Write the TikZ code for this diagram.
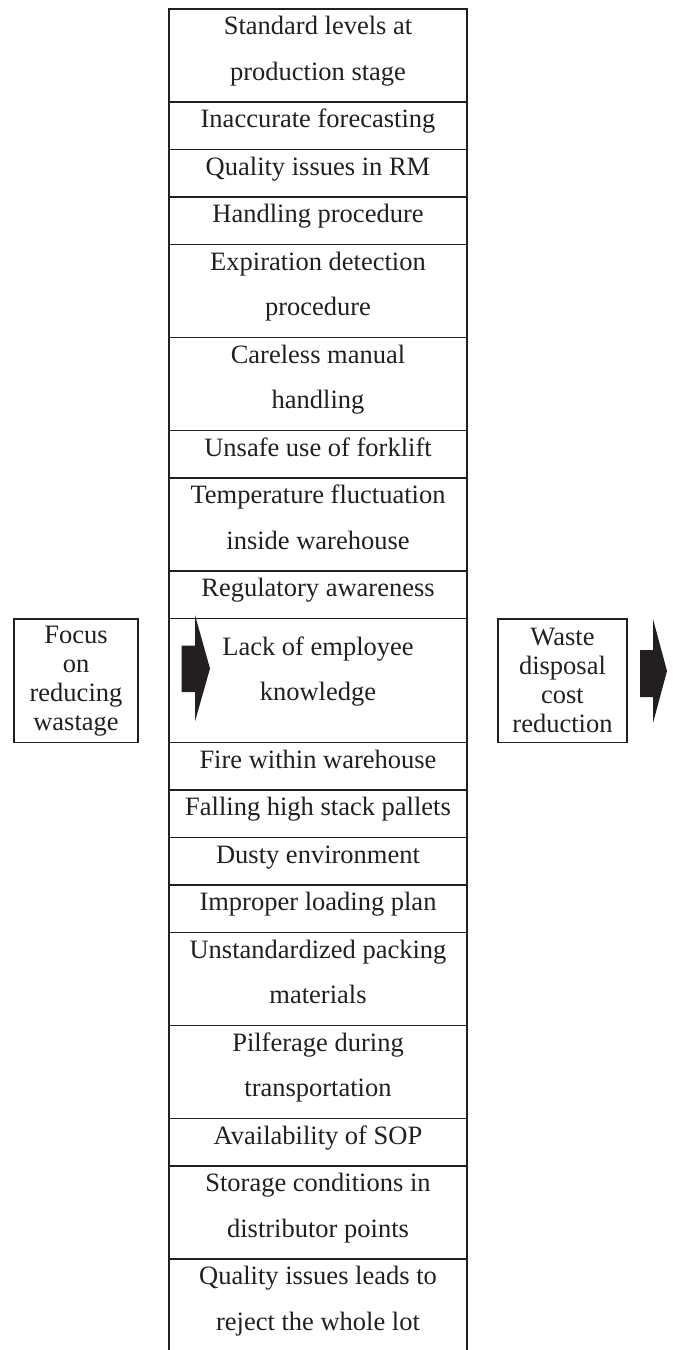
\documentclass[tikz,border=0pt]{standalone}
\usepackage{fontspec}
\setmainfont{Liberation Serif}
\usepackage{tikz}
\usetikzlibrary{positioning}

\definecolor{ink}{RGB}{35,31,32}

\tikzset{
  cell/.style={draw=ink, line width=1.8pt, minimum width=298pt, inner sep=0pt, outer sep=0pt},
  txt/.style={text=ink, anchor=base, align=center, inner sep=0pt, font=\fontsize{26.5}{45.5}\selectfont},
  sidebox/.style={draw=ink, line width=1.8pt, text=ink, align=center, inner sep=0pt, outer sep=0pt,
    minimum height=123.5pt, font=\fontsize{26.5}{29}\selectfont},
  blockarrow/.style={fill=ink, draw=none},
}

\begin{document}
\begin{tikzpicture}[x=1pt, y=-1pt]
        \useasboundingbox (0,0) rectangle (677,1350);

         % column of causes
        \node[cell, minimum height=93pt, anchor=north] (r1) at (318,9) {};
        \node[cell, minimum height=47.5pt, below=0pt of r1] (r2) {};
        \node[cell, minimum height=47.5pt, below=0pt of r2] (r3) {};
        \node[cell, minimum height=47.5pt, below=0pt of r3] (r4) {};
        \node[cell, minimum height=93pt, below=0pt of r4] (r5) {};
        \node[cell, minimum height=93pt, below=0pt of r5] (r6) {};
        \node[cell, minimum height=47.5pt, below=0pt of r6] (r7) {};
        \node[cell, minimum height=93pt, below=0pt of r7] (r8) {};
        \node[cell, minimum height=47.5pt, below=0pt of r8] (r9) {};
        \node[cell, minimum height=124pt, below=0pt of r9] (r10) {};
        \node[cell, minimum height=47.5pt, below=0pt of r10] (r11) {};
        \node[cell, minimum height=47.5pt, below=0pt of r11] (r12) {};
        \node[cell, minimum height=47.5pt, below=0pt of r12] (r13) {};
        \node[cell, minimum height=47.5pt, below=0pt of r13] (r14) {};
        \node[cell, minimum height=93pt, below=0pt of r14] (r15) {};
        \node[cell, minimum height=93pt, below=0pt of r15] (r16) {};
        \node[cell, minimum height=47.5pt, below=0pt of r16] (r17) {};
        \node[cell, minimum height=93pt, below=0pt of r17] (r18) {};
        % last row runs off the page
        \node[cell, minimum height=100pt, below=0pt of r18] (r19) {};

         % texts of the rows (base is the last line)
        \node[txt] (t1) at ([yshift=-71pt]r1.north) {Standard levels at\\production stage};
        \node[txt] (t2) at ([yshift=-25.5pt]r2.north) {Inaccurate forecasting};
        \node[txt] (t3) at ([yshift=-25.5pt]r3.north) {Quality issues in RM};
        \node[txt] (t4) at ([yshift=-25.5pt]r4.north) {Handling procedure};
        \node[txt] (t5) at ([yshift=-71pt]r5.north) {Expiration detection\\procedure};
        \node[txt] (t6) at ([yshift=-71pt]r6.north) {Careless manual\\handling};
        \node[txt] (t7) at ([yshift=-25.5pt]r7.north) {Unsafe use of forklift};
        \node[txt] (t8) at ([yshift=-71pt]r8.north) {Temperature fluctuation\\inside warehouse};
        \node[txt] (t9) at ([yshift=-25.5pt]r9.north) {Regulatory awareness};
        \node[txt] (t10) at ([yshift=-82pt]r10.north) {Lack of employee\\knowledge};
        \node[txt] (t11) at ([yshift=-25.5pt]r11.north) {Fire within warehouse};
        \node[txt] (t12) at ([yshift=-25.5pt]r12.north) {Falling high stack pallets};
        \node[txt] (t13) at ([yshift=-25.5pt]r13.north) {Dusty environment};
        \node[txt] (t14) at ([yshift=-25.5pt]r14.north) {Improper loading plan};
        \node[txt] (t15) at ([yshift=-71pt]r15.north) {Unstandardized packing\\materials};
        \node[txt] (t16) at ([yshift=-71pt]r16.north) {Pilferage during\\transportation};
        \node[txt] (t17) at ([yshift=-25.5pt]r17.north) {Availability of SOP};
        \node[txt] (t18) at ([yshift=-71pt]r18.north) {Storage conditions in\\distributor points};
        \node[txt] (t19) at ([yshift=-71pt]r19.north) {Quality issues leads to\\reject the whole lot};

         % side boxes
        \node[sidebox, minimum width=124pt] (focus) at (76,680.75) {Focus\\on\\reducing\\wastage};
        \node[sidebox, minimum width=129pt] (waste) at (562.5,680.75) {Waste\\disposal\\cost\\reduction};

         % block arrows
        \fill[blockarrow] (181.5,645.5) -- (195,645.5) -- (195,615) -- (210,668.5)
                -- (195,721.5) -- (195,692) -- (181.5,692) -- cycle;
        \fill[blockarrow] (640,650) -- (653,650) -- (653,619) -- (667,671)
                -- (653,723) -- (653,697) -- (640,697) -- cycle;
      \end{tikzpicture}
\end{document}
